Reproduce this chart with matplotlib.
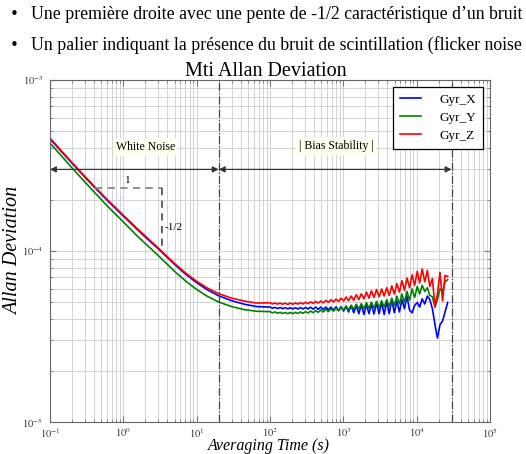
import matplotlib
matplotlib.use("Agg")
import matplotlib.pyplot as plt
import numpy as np
from matplotlib.ticker import FuncFormatter, LogLocator

plt.rcParams["font.family"] = ["Liberation Serif", "DejaVu Serif"]
plt.rcParams["mathtext.fontset"] = "stix"

# averaging times (s)
TAU = [
    0.1, 0.15, 0.2, 0.3, 0.41, 0.6, 1, 1.5, 2, 3, 5, 7, 10, 14, 20, 30, 45, 66,
    100, 108, 117, 127, 138, 149, 161, 175, 189, 205,
    222, 240, 260, 282, 305, 330, 358, 388, 420, 455,
    493, 534, 578, 626, 678, 734, 795, 861, 932, 1010,
    1090, 1180, 1280, 1390, 1500, 1630, 1760, 1910, 2070, 2240,
    2420, 2620, 2840, 3080, 3330, 3610, 3910, 4230, 4580, 4960,
    5370, 5820, 6300, 6830, 7390, 8010, 8670, 9390, 10200, 11000,
    11900, 12900, 14000, 15100, 16400, 17800, 19200, 20800, 22600, 24400, 26500,
]

# Allan deviation, in units of 1e-5
GYR_X = [
    45.3, 37.3, 32.6, 27.0, 23.45, 19.85, 16.0, 13.55, 12.05, 10.3, 8.35, 7.35, 6.53, 5.93, 5.47, 5.12, 4.88, 4.73,
    4.70, 4.63, 4.68, 4.61, 4.67, 4.60, 4.66, 4.59, 4.66, 4.58,
    4.66, 4.58, 4.67, 4.58, 4.68, 4.58, 4.69, 4.57, 4.70, 4.56,
    4.70, 4.55, 4.70, 4.53, 4.70, 4.50, 4.72, 4.48, 4.72, 4.45,
    4.75, 4.40, 4.78, 4.35, 4.80, 4.30, 4.85, 4.25, 4.85, 4.30,
    4.90, 4.28, 4.95, 4.30, 5.00, 4.25, 5.05, 4.30, 5.20, 4.35,
    5.10, 4.40, 5.20, 4.60, 5.45, 4.50, 4.35, 4.80, 5.00, 4.70,
    5.25, 4.90, 5.45, 5.20, 4.60, 3.70, 3.10, 3.70, 3.90, 4.40, 5.00,
]
GYR_Y = [
    42.8, 35.2, 30.6, 25.3, 21.9, 18.4, 14.8, 12.4, 11.05, 9.4, 7.6, 6.7, 5.96, 5.43, 5.03, 4.73, 4.54, 4.44,
    4.42, 4.35, 4.40, 4.33, 4.38, 4.31, 4.37, 4.30, 4.37, 4.30,
    4.38, 4.31, 4.40, 4.32, 4.42, 4.34, 4.45, 4.36, 4.48, 4.38,
    4.52, 4.40, 4.56, 4.42, 4.60, 4.45, 4.65, 4.47, 4.70, 4.50,
    4.76, 4.52, 4.82, 4.55, 4.88, 4.58, 4.92, 4.60, 4.98, 4.62,
    5.02, 4.64, 5.08, 4.66, 5.12, 4.70, 5.20, 4.74, 5.30, 4.80,
    5.45, 4.90, 5.60, 5.00, 5.80, 5.15, 6.00, 5.35, 6.20, 5.60,
    6.30, 5.80, 6.10, 5.50, 5.40, 4.70, 5.20, 6.00, 5.80, 6.60, 6.80,
]
GYR_Z = [
    45.8, 37.7, 32.9, 27.3, 23.7, 20.05, 16.2, 13.7, 12.2, 10.42, 8.45, 7.46, 6.65, 6.07, 5.63, 5.30, 5.09, 4.96,
    4.98, 4.90, 4.97, 4.89, 4.96, 4.88, 4.95, 4.87, 4.96, 4.88,
    4.97, 4.89, 4.99, 4.90, 5.01, 4.92, 5.04, 4.94, 5.07, 4.96,
    5.10, 4.98, 5.14, 5.01, 5.18, 5.04, 5.23, 5.07, 5.30, 5.10,
    5.38, 5.12, 5.45, 5.15, 5.55, 5.20, 5.62, 5.25, 5.75, 5.30,
    5.85, 5.35, 5.95, 5.40, 6.00, 5.45, 6.10, 5.50, 6.25, 5.60,
    6.45, 5.75, 6.70, 5.90, 6.95, 6.10, 7.25, 6.30, 7.60, 6.50,
    7.85, 6.60, 7.70, 6.20, 6.90, 4.70, 5.60, 7.50, 5.10, 7.20, 7.10,
]
SERIES = [("Gyr_X", GYR_X, "#0000ff"), ("Gyr_Y", GYR_Y, "#008000"), ("Gyr_Z", GYR_Z, "#ff0000")]
UNIT = 1e-5

# region boundaries and slope guide
WHITE_END = 20
BIAS_END = 3e4
ARROW_Y = 3e-4


def sci(v, _pos):
    return r"$10^{%d}$" % int(round(np.log10(v)))


fig = plt.figure(figsize=(5.26, 4.54), dpi=100)

# text of the surrounding document
for y, line in [(0.968, "Une première droite avec une pente de -1/2 caractéristique d’un bruit"),
                (0.900, "Un palier indiquant la présence du bruit de scintillation (flicker noise")]:
    fig.text(0.018, y, "•", fontsize=11, va="center", family=["DejaVu Sans"])
    fig.text(0.059, y, line, fontsize=12.8, va="center")

fig.text(0.505, 0.842, "Mti Allan Deviation", fontsize=14.5, ha="center", va="center")

ax = fig.add_axes([0.095, 0.0705, 0.8365, 0.7533])
tau = np.array(TAU)
for name, vals, col in SERIES:
    ax.plot(tau, np.array(vals) * UNIT, color=col, lw=1.2, label=name)

ax.set_xscale("log")
ax.set_yscale("log")
ax.set_xlim(1e-1, 1e5)
ax.set_ylim(1e-5, 1e-3)
ax.xaxis.set_major_locator(LogLocator(base=10, numticks=10))
ax.xaxis.set_major_formatter(FuncFormatter(sci))
ax.yaxis.set_major_formatter(FuncFormatter(sci))
ax.grid(True, which="both", color="#d2d2d2", lw=0.7)
ax.set_axisbelow(True)
ax.tick_params(which="both", direction="in", top=True, right=True,
               labelsize=7.5, labelcolor="#333333", color="#777777")
ax.tick_params(axis="x", pad=3)
ax.tick_params(axis="y", pad=5)
ax.tick_params(which="major", length=4)
ax.tick_params(which="minor", length=2)
for sp in ax.spines.values():
    sp.set_color("#666666")

ax.axvline(WHITE_END, color="#444444", lw=0.9, ls="-.")
ax.axvline(BIAS_END, color="#444444", lw=0.9, ls="-.")

arrow = dict(arrowstyle="<|-|>", color="#333333", lw=0.9, mutation_scale=9,
             shrinkA=0, shrinkB=0)
ax.annotate("", xy=(1e-1, ARROW_Y), xytext=(WHITE_END, ARROW_Y), arrowprops=arrow)
ax.annotate("", xy=(WHITE_END, ARROW_Y), xytext=(BIAS_END, ARROW_Y), arrowprops=arrow)

box = dict(facecolor="#fffff0", edgecolor="none", pad=2)
ax.text(2.0, 4.05e-4, "White Noise", fontsize=8.5, ha="center", va="center", bbox=box)
ax.text(800, 4.1e-4, "| Bias Stability |", fontsize=8.5, ha="center", va="center", bbox=box)

# slope -1/2 triangle
ax.plot([0.41, 3.37], [2.33e-4, 2.33e-4], color="#888888", lw=1.3, ls=(0, (4, 3)))
ax.plot([3.37, 3.37], [2.33e-4, 9.9e-5], color="#555555", lw=1.3, ls=(0, (4, 3)))
ax.text(1.16, 2.6e-4, "1", fontsize=8, ha="center", va="center")
ax.text(3.7, 1.38e-4, "-1/2", fontsize=8, ha="left", va="center")

leg = ax.legend(loc="upper right", bbox_to_anchor=(0.984, 0.98), borderaxespad=0,
                fontsize=9.5, handlelength=1.6, handletextpad=1.4, fancybox=False,
                framealpha=1, edgecolor="black", borderpad=0.5, labelspacing=0.45)
leg.get_frame().set_linewidth(0.9)

ax.set_xlabel("Averaging Time (s)", fontsize=11.5, style="italic")
ax.xaxis.set_label_coords(0.498, -0.047)
ax.set_ylabel("Allan Deviation", fontsize=14.5, style="italic")
ax.yaxis.set_label_coords(-0.06, 0.5)

fig.savefig("out.png", dpi=100)
